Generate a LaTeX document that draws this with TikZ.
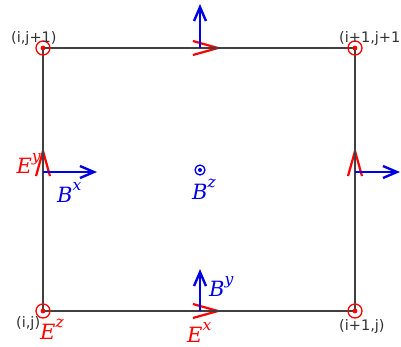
\documentclass[tikz,border=0pt]{standalone}
\usepackage{fontspec}
\newfontfamily\idxfont{DejaVu Sans}
\newfontfamily\fldfont{DejaVu Serif}
\usetikzlibrary{arrows.meta,positioning}
\newcommand{\fcomp}[2]{\textit{#1}\raisebox{0.55em}{\fontsize{15.5}{17}\selectfont\textit{#2}}}

\begin{document}
\begin{tikzpicture}[
        x=1pt, y=-1pt,
    every node/.style={inner sep=0pt},
    grid/.style={draw=black!75, line width=1.2pt},
    efield/.style={draw=ecol, line width=2.2pt, -{Straight Barb[length=25pt,width=14pt]}},
    bfield/.style={draw=bcol, line width=2.4pt, -{Straight Barb[length=14pt,width=12pt]}},
    ecorner/.style={circle, draw=ecol, line width=1.3pt, minimum size=14pt,
        path picture={\fill [ecol] (path picture bounding box.center) circle (2.4pt);}},
    bdot/.style={circle, draw=bcol, line width=1.3pt, minimum size=10pt,
        path picture={\fill [bcol] (path picture bounding box.center) circle (2pt);}},
    elabel/.style={text=ecol, font=\fldfont\fontsize{21}{23}\selectfont},
    blabel/.style={text=bcol, font=\fldfont\fontsize{21}{23}\selectfont},
    idx/.style={text=black!80, font=\idxfont\fontsize{14.5}{16}\selectfont}
]
    \colorlet{ecol}{red}
    \colorlet{bcol}{blue!90!black}
    \useasboundingbox (0,0) rectangle (401,346);

    \coordinate (ll) at (43,311);
    \coordinate (lr) at (355,311);
    \coordinate (ul) at (43,48);
    \coordinate (ur) at (355,48);

    % field points
    \coordinate (w) at (43,172);
    \coordinate (e) at (355,172);
    \coordinate (s) at (200,311);
    \coordinate (n) at (200,48);
    \coordinate (wy) at (43,147);
    \coordinate (ey) at (355,147);
    \coordinate (sx0) at (196,311);
    \coordinate (sx) at (222,311);
    \coordinate (nx0) at (196,48);
    \coordinate (nx) at (222,48);
    \coordinate (wx) at (97,172);
    \coordinate (ex) at (400,172);
    \coordinate (sy) at (200,269);
    \coordinate (ny) at (200,4);

    \draw [efield] (w) -- (wy);
    \draw [efield] (e) -- (ey);
    \draw [efield] (sx0) -- (sx);
    \draw [efield] (nx0) -- (nx);

    \draw [grid] (ll) -- (lr) -- (ur) -- (ul) -- cycle;

    \draw [bfield] (w) -- (wx);
    \draw [bfield] (e) -- (ex);
    \draw [bfield] (s) -- (sy);
    \draw [bfield] (n) -- (ny);

    \node [ecorner] (zll) at (ll) {};
    \node [ecorner] (zlr) at (lr) {};
    \node [ecorner] (zul) at (ul) {};
    \node [ecorner] (zur) at (ur) {};
    \node [bdot] (bz) at (200,170) {};

    \node [elabel, anchor=base east] (ly) at (41,173) {\fcomp{E}{y}};
    \node [blabel, anchor=base west] (lbx) at (57,202) {\fcomp{B}{x}};
    \node [blabel, anchor=base west] (lbz) at (192,199) {\fcomp{B}{z}};
    \node [blabel, anchor=base west] (lby) at (209,296) {\fcomp{B}{y}};
    \node [elabel, anchor=base west] (lex) at (187,342) {\fcomp{E}{x}};
    \node [elabel, anchor=base west] (lez) at (40,339) {\fcomp{E}{z}};

    \node [idx, anchor=west] (iul) at (11,38) {(i,j+1)};
    \node [idx, anchor=west] (iur) at (339,38) {(i+1,j+1)};
    \node [idx, anchor=west] (ill) at (16,323) {(i,j)};
    \node [idx, anchor=west] (ilr) at (339,326) {(i+1,j)};
\end{tikzpicture}
\end{document}
